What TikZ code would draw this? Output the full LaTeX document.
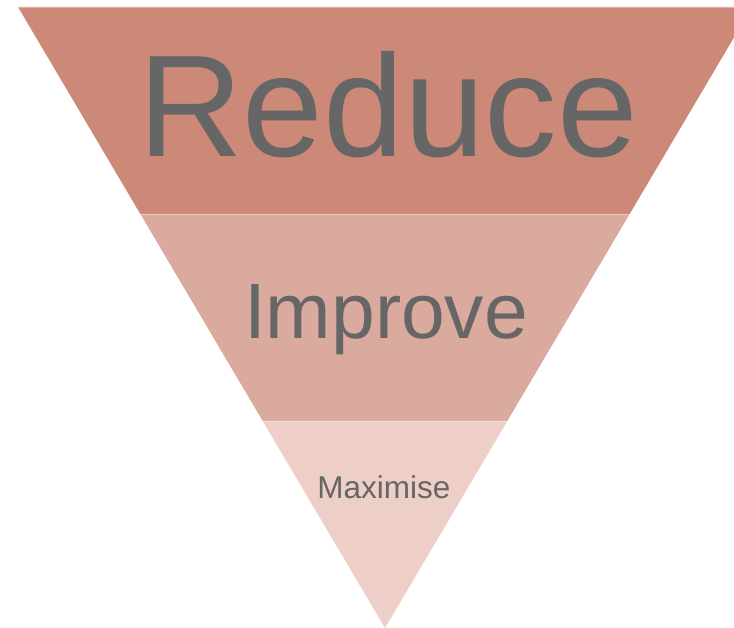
\documentclass[tikz,border=0pt]{standalone}
\usepackage{fontspec}
\setmainfont{Liberation Sans}
\usetikzlibrary{calc}

\definecolor{bandtop}{RGB}{205,137,119}
\definecolor{bandmid}{RGB}{219,170,158}
\definecolor{bandlow}{RGB}{237,207,200}
\definecolor{labelgray}{RGB}{102,102,102}

\tikzset{
	band/.style={draw=white, draw opacity=0.35, line width=0.8pt},
	label/.style={text=labelgray, anchor=base, inner sep=0pt}
}

\begin{document}
\begin{tikzpicture}[x=1pt, y=1pt]
\useasboundingbox (0,0) rectangle (734,628);
\clip (0,0) rectangle (734,628);
\coordinate (apex) at (385,0);
\coordinate (tl) at (18,621);
\coordinate (tr) at (752,621);
\coordinate (ml) at ($(apex)!2/3!(tl)$);
\coordinate (mr) at ($(apex)!2/3!(tr)$);
\coordinate (ll) at ($(apex)!1/3!(tl)$);
\coordinate (lr) at ($(apex)!1/3!(tr)$);

\fill[bandtop] (tl) -- (tr) -- (mr) -- (ml) -- cycle;
\fill[bandmid] (ml) -- (mr) -- (lr) -- (ll) -- cycle;
\fill[bandlow] (ll) -- (lr) -- (apex) -- cycle;
\draw[band] (tl) -- (tr);
\draw[band] (ml) -- (mr);
\draw[band] (ll) -- (lr);

\node[label, font=\fontsize{145}{150}\selectfont] (reduce) at (388,471) {Reduce};
\node[label, font=\fontsize{78.6}{82}\selectfont] (improve) at (386,289) {Improve};
\node[label, font=\fontsize{31.5}{34}\selectfont] (maximise) at (384,129) {Maximise};
\end{tikzpicture}
\end{document}
